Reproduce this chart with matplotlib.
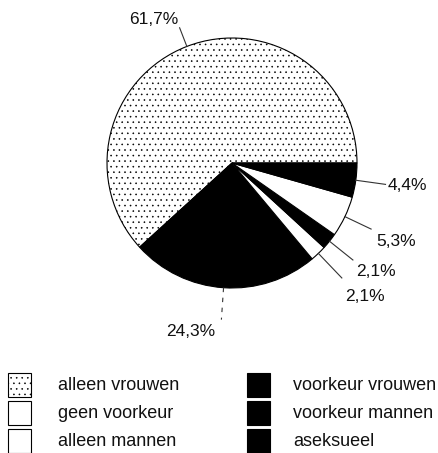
import numpy as np
import matplotlib
matplotlib.use("Agg")
import matplotlib.pyplot as plt
from matplotlib.patches import Rectangle

plt.rcParams['font.family'] = ['Liberation Sans', 'DejaVu Sans']
plt.rcParams['hatch.color'] = '#9a9a9a'
plt.rcParams['hatch.linewidth'] = 0.4

# data (pie order, counterclockwise from 3 o'clock)
categories = ["alleen vrouwen", "voorkeur vrouwen", "alleen mannen",
              "voorkeur mannen", "geen voorkeur", "aseksueel"]
values = [61.7, 24.3, 2.1, 2.1, 5.3, 4.4]
value_labels = ["61,7%", "24,3%", "2,1%", "2,1%", "5,3%", "4,4%"]
legend_order = ["alleen vrouwen", "geen voorkeur", "alleen mannen",
                "voorkeur vrouwen", "voorkeur mannen", "aseksueel"]

# styles
face = {"alleen vrouwen": "white", "voorkeur vrouwen": "black",
        "alleen mannen": "white", "voorkeur mannen": "black",
        "geen voorkeur": "white", "aseksueel": "black"}
hatch = {"alleen vrouwen": "..."}

W, H = 439, 453
fig = plt.figure(figsize=(W / 100, H / 100), dpi=100)
ax = fig.add_axes([0, 0, 1, 1])

cx, cy, R = 232, H - 163, 125
wedges, _ = ax.pie(values, colors=[face[c] for c in categories], startangle=0,
                   counterclock=True, center=(cx, cy), radius=R,
                   wedgeprops=dict(edgecolor='black', linewidth=0.8))
for w, c in zip(wedges, categories):
    if c in hatch:
        w.set_hatch(hatch[c])

# label offsets (text position relative to leader end, in pixels) and alignment
offsets = [(-26, 8, 'center'), (-6, -12, 'right'), (3, -19, 'left'),
           (3, -12, 'left'), (5, -12, 'left'), (2, -1, 'left')]
r_out = [145, 157, 159, 155, 154, 155]
for w, lab, (dx, dy, ha), ro in zip(wedges, value_labels, offsets, r_out):
    ang = np.deg2rad((w.theta1 + w.theta2) / 2)
    x0, y0 = cx + R * np.cos(ang), cy + R * np.sin(ang)
    x1, y1 = cx + ro * np.cos(ang), cy + ro * np.sin(ang)
    ls = (0, (4, 5)) if lab == "24,3%" else '-'
    ax.plot([x0, x1], [y0, y1], color='#333333', lw=0.8, ls=ls)
    ax.text(x1 + dx, y1 + dy, lab, ha=ha, va='center', fontsize=12.5, color='#111111')

# legend
col_x = [8, 247]
text_x = [58, 293]
row_y = [H - 385, H - 413, H - 441]
for i, name in enumerate(legend_order):
    col, row = divmod(i, 3)
    x, y = col_x[col], row_y[row]
    ax.add_patch(Rectangle((x, y - 12), 23, 24, facecolor=face[name],
                           edgecolor='black', lw=0.8, hatch=hatch.get(name)))
    ax.text(text_x[col], y, name, ha='left', va='center', fontsize=13, color='#111111')

ax.set_xlim(0, W)
ax.set_ylim(0, H)
ax.set_aspect('auto')
ax.axis('off')
fig.savefig("out.png", dpi=100)
